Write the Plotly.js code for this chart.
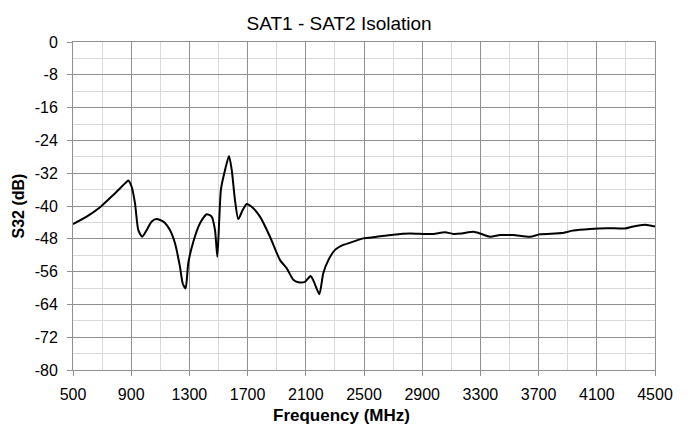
<!DOCTYPE html>
<html><head><meta charset="utf-8">
<script src="https://cdn.plot.ly/plotly-3.0.1.min.js"></script>
<style>html,body{margin:0;padding:0;background:#fff}#chart{width:692px;height:425px}</style>
</head><body><div id="chart"></div>
<script>
const freqMHz = [500,594,686,777,869,880,903,926,949,976,1006,1041,1075,1121,1167,1201,1235,1254,1274,1292,1327,1373,1419,1453,1476,1492,1505,1517,1545,1572,1591,1613,1636,1666,1694,1728,1785,1854,1923,1969,2014,2049,2094,2133,2156,2193,2220,2255,2301,2358,2426,2495,2587,2701,2816,2908,2977,3057,3114,3171,3251,3297,3366,3435,3526,3641,3709,3858,3938,4053,4168,4294,4351,4431,4500];
const s32dB = [-44.4,-42.6,-40.3,-37.3,-34.1,-33.8,-35.3,-39.3,-45.9,-47.5,-45.9,-43.8,-43.2,-43.8,-45.9,-49.1,-54.8,-58.9,-60.1,-54,-48.7,-44.2,-42,-42.6,-45.9,-52.4,-43.4,-35.9,-31.2,-27.8,-31.2,-38.5,-43.2,-41,-39.5,-40.2,-42.6,-47.5,-53.2,-55.2,-58,-58.6,-58.5,-57.1,-58.5,-61.5,-56.4,-53.2,-50.7,-49.5,-48.7,-47.9,-47.5,-47,-46.7,-46.8,-46.8,-46.4,-46.8,-46.7,-46.3,-46.7,-47.5,-47.1,-47.1,-47.5,-46.9,-46.6,-46,-45.6,-45.4,-45.5,-45,-44.6,-45];
const xTickVals = [500,900,1300,1700,2100,2500,2900,3300,3700,4100,4500];
const yTickVals = [0,-8,-16,-24,-32,-40,-48,-56,-64,-72,-80];

const font = {family:'"Liberation Sans", Arial, sans-serif', color:'#000'};
Plotly.newPlot('chart', [{
  x: freqMHz, y: s32dB, type:'scatter', mode:'lines',
  line:{color:'#000', width:2, shape:'spline', smoothing:0.6}
}], {
  width:692, height:425,
  margin:{l:73, r:37, t:42, b:55},
  paper_bgcolor:'#fff', plot_bgcolor:'#fff',
  font: Object.assign({size:17}, font),
  showlegend:false,
  title:{text:'SAT1 - SAT2 Isolation', font:Object.assign({size:19}, font), x:0.49, xanchor:'center', y:0.945, yanchor:'middle', yref:'container'},
  annotations:[{text:'<b>Frequency (MHz)</b>', xref:'paper', yref:'paper', x:0.462, y:-0.14, xanchor:'center', yanchor:'middle', showarrow:false, font:Object.assign({size:17}, font)}],
  xaxis:{
    range:[500,4500], tickvals:xTickVals, ticktext:xTickVals.map(String),
    showgrid:true, gridcolor:'#909090', gridwidth:1,
    minor:{dtick:200, tick0:500, showgrid:true, gridcolor:'#d9d9d9', gridwidth:1, ticks:''},
    showline:true, linecolor:'#909090', linewidth:1, mirror:true,
    ticks:'outside', ticklen:5, tickcolor:'#909090', ticklabelstandoff:5,
    zeroline:false, tickfont:Object.assign({size:16}, font)
  },
  yaxis:{
    range:[-80,0], tickvals:yTickVals, ticktext:yTickVals.map(String),
    showgrid:true, gridcolor:'#909090', gridwidth:1,
    minor:{dtick:4, tick0:0, showgrid:true, gridcolor:'#d9d9d9', gridwidth:1, ticks:''},
    showline:true, linecolor:'#909090', linewidth:1, mirror:true,
    ticks:'outside', ticklen:5, tickcolor:'#909090', ticklabelstandoff:6,
    zeroline:false, tickfont:Object.assign({size:16}, font),
    title:{text:'<b>S32 (dB)</b>', font:Object.assign({size:16}, font), standoff:6}
  }
}, {staticPlot:true, displayModeBar:false});
</script></body></html>
